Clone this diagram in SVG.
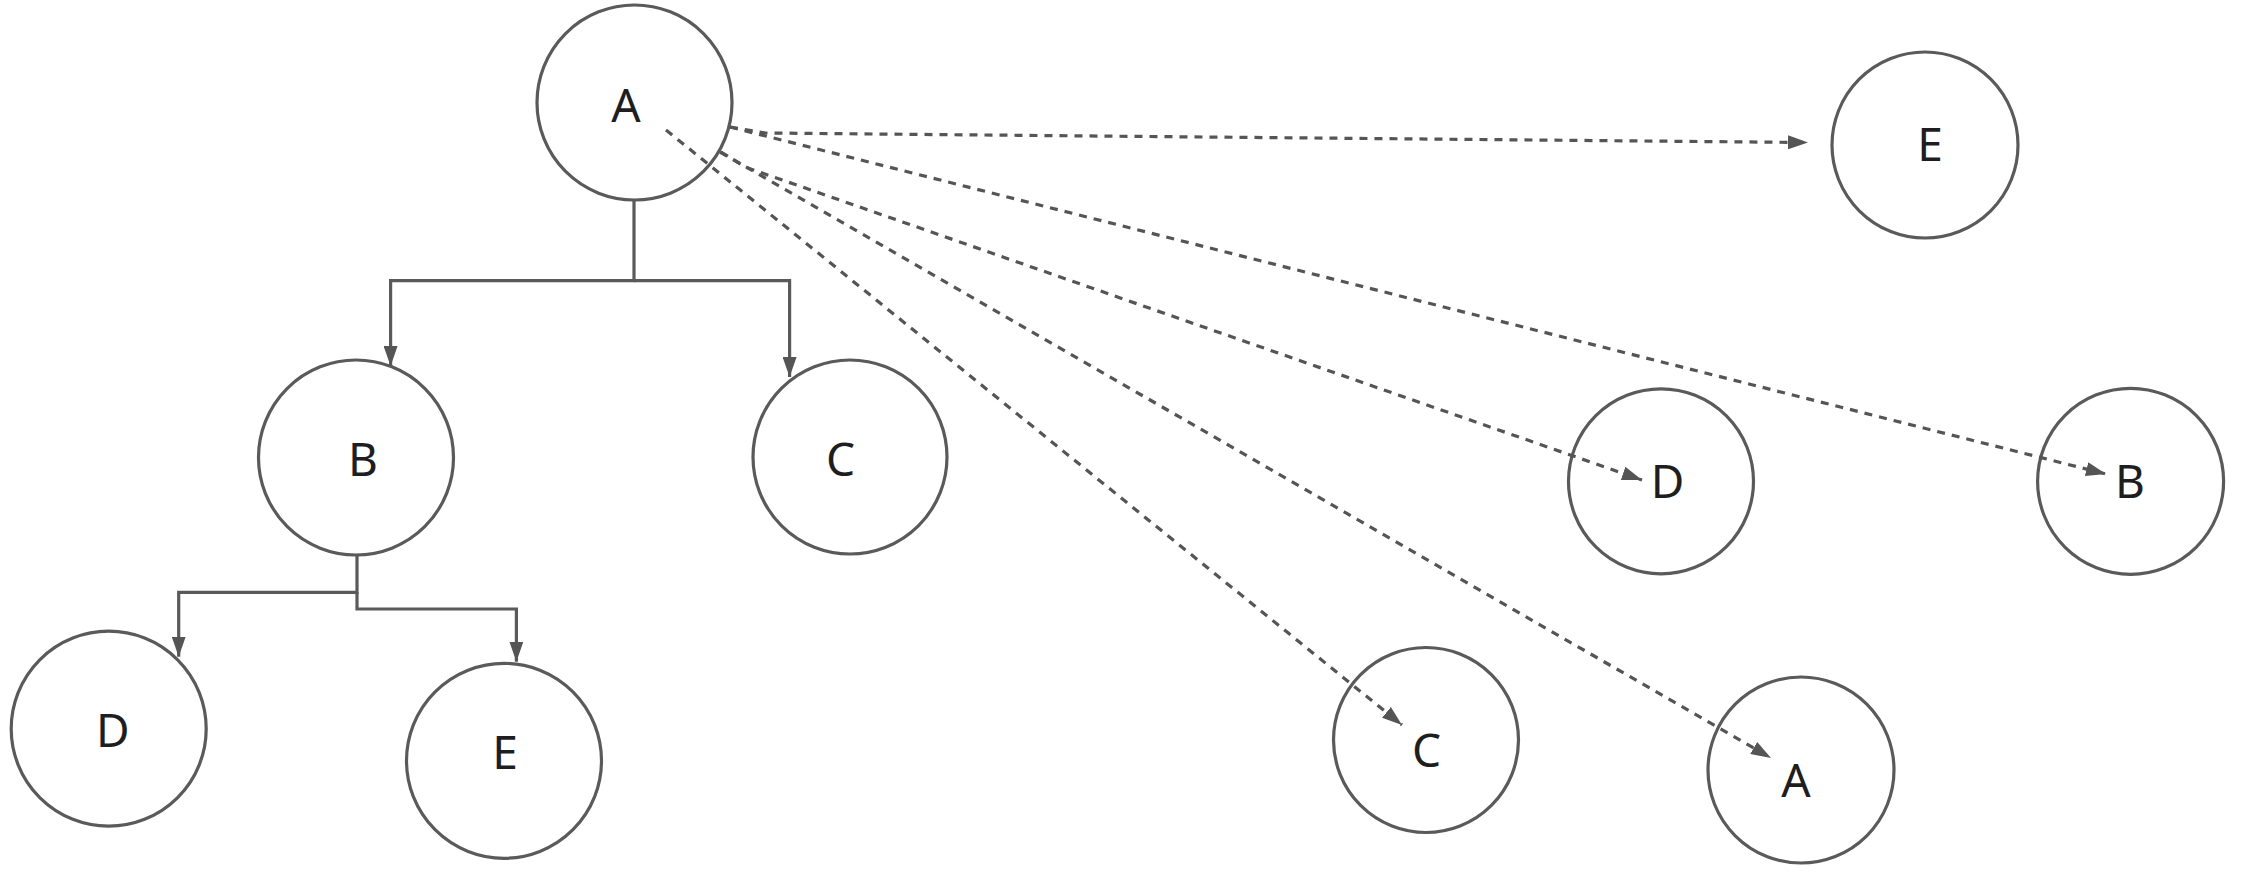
<svg xmlns="http://www.w3.org/2000/svg" width="2242" height="872" viewBox="0 0 2242 872">
<style>
.node circle{fill:#fff;stroke:#5a5a5a;stroke-width:3.2}
.node text{font-family:"Noto Sans","Open Sans",sans-serif;font-size:46px;fill:#1e1e1e;text-anchor:middle}
.solid{fill:none;stroke:#5a5a5a;stroke-width:3.2}
.dash{fill:none;stroke:#555;stroke-width:3.2;stroke-dasharray:8 7}
</style>
<defs>
<marker id="arr" markerUnits="userSpaceOnUse" markerWidth="20" markerHeight="14" viewBox="0 0 20 14" refX="20" refY="7" orient="auto">
<path d="M0,0 L20,7 L0,14 z" fill="#555" stroke="none"/>
</marker>
</defs>
<rect width="2242" height="872" fill="#fff"/>
<g id="nodeA" class="node"><circle cx="634.5" cy="102.5" r="97.5"/><text x="626" y="122">A</text></g>
<g id="nodeB" class="node"><circle cx="356" cy="457.5" r="97.5"/><text x="363" y="476">B</text></g>
<g id="nodeC" class="node"><circle cx="850" cy="457" r="97"/><text x="840.5" y="476">C</text></g>
<g id="nodeD" class="node"><circle cx="108.7" cy="728.7" r="97.5"/><text x="112.7" y="746.7">D</text></g>
<g id="nodeE" class="node"><circle cx="504" cy="760.8" r="97.5"/><text x="505" y="769">E</text></g>
<g id="nodeE2" class="node"><circle cx="1925" cy="145" r="93"/><text x="1930" y="160.7">E</text></g>
<g id="nodeD2" class="node"><circle cx="1661" cy="481.3" r="92.5"/><text x="1667.6" y="498">D</text></g>
<g id="nodeB2" class="node"><circle cx="2130.6" cy="481.3" r="93"/><text x="2130" y="498">B</text></g>
<g id="nodeC2" class="node"><circle cx="1426" cy="740" r="92.5"/><text x="1426.5" y="767">C</text></g>
<g id="nodeA2" class="node"><circle cx="1801" cy="770" r="93"/><text x="1796" y="797">A</text></g>
<g id="connectors">
<path class="solid" d="M634,200 V280.7 H390.6 V366" marker-end="url(#arr)"/>
<path class="solid" d="M634,280.7 H789.6 V377" marker-end="url(#arr)"/>
<path class="solid" d="M357,555 V592.3 H178.7 V656.7" marker-end="url(#arr)"/>
<path class="solid" d="M357,592.3 V609 H516.4 V661.7" marker-end="url(#arr)"/>
<path class="dash" d="M730,127 L765,133 L1808,142.5" marker-end="url(#arr)"/>
<path class="dash" d="M730,127 L2106,474" marker-end="url(#arr)"/>
<path class="dash" d="M721,152 L745,167 L1642,480" marker-end="url(#arr)"/>
<path class="dash" d="M720,152 L1771,758" marker-end="url(#arr)"/>
<path class="dash" d="M666,130 L1402,725" marker-end="url(#arr)"/>
</g>
</svg>
